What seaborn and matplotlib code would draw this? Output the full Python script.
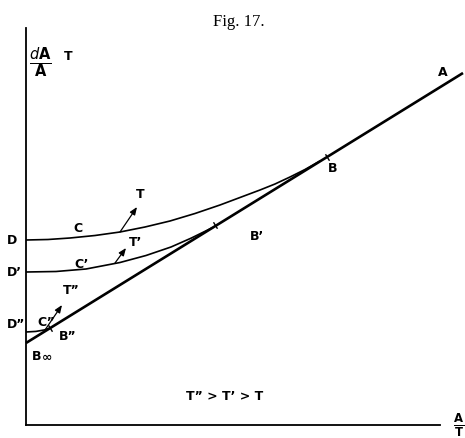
import matplotlib
matplotlib.use("Agg")
import matplotlib.pyplot as plt
import seaborn as sns

sns.set_style("white")
plt.rcParams["font.family"] = ["DejaVu Sans"]
plt.rcParams["mathtext.default"] = "bf"
plt.rcParams["text.color"] = "black"

# Straight line B_inf -> A
lead_x = [0, 437]
lead_y = [82, 352]

# Isotherm curves starting at D, D', D'' and touching the line at B, B', B''
curve_t_x = [0, 22, 44, 69, 94, 119, 144, 169, 194, 214, 234, 249, 264, 279, 294]
curve_t_y = [185, 185.5, 187, 189.5, 193, 198, 204, 211.5, 220, 227.5, 235, 241, 248, 255.5, 264]
curve_t1_x = [0, 30, 60, 94, 120, 145, 165, 187]
curve_t1_y = [153, 153.5, 156, 162.5, 169.5, 178, 186.8, 197.6]
curve_t2_x = [0, 10, 18, 24]
curve_t2_y = [93, 93.6, 95, 96.8]

# Contact points B, B', B''
contact_x = [301, 189, 24]
contact_y = [268, 200, 97]

# Temperature arrows (tail, head)
arrow_tails = [(94, 193), (89, 162), (19, 95)]
arrow_heads = [(111, 218), (100, 177), (36, 120)]
arrow_labels = ["T", "T\u2019", "T\u201d"]

fig = plt.figure(figsize=(4.65, 4.38), dpi=100)
ax = fig.add_axes([26 / 465, 13 / 438, 414 / 465, 397 / 438])

sns.lineplot(x=lead_x, y=lead_y, ax=ax, color="black", lw=1.9, sort=False, estimator=None)
for cx, cy in [(curve_t_x, curve_t_y), (curve_t1_x, curve_t1_y), (curve_t2_x, curve_t2_y)]:
    sns.lineplot(x=cx, y=cy, ax=ax, color="black", lw=1.2, sort=False, estimator=None)
sns.scatterplot(x=contact_x, y=contact_y, ax=ax, marker=(2, 0, 31.7), s=30,
                color="black", linewidth=1.0, edgecolor="black")
for line in ax.lines:
    line.set_clip_on(False)
    line.set_solid_capstyle("butt")
    line.set_solid_joinstyle("round")

for (tx, ty), (hx, hy) in zip(arrow_tails, arrow_heads):
    ax.annotate("", xy=(hx, hy), xytext=(tx, ty),
                arrowprops=dict(arrowstyle="-|>,head_length=0.45,head_width=0.18",
                                color="black", lw=0.9, shrinkA=0, shrinkB=0))

ax.set_xlim(0, 414)
ax.set_ylim(0, 397)
ax.set_xticks([])
ax.set_yticks([])
sns.despine(ax=ax)
for side in ("left", "bottom"):
    ax.spines[side].set_linewidth(1.3)
    ax.spines[side].set_color("black")

lab = dict(fontsize=9, fontweight="bold", ha="center", va="center", clip_on=False,
           color="black")
ax.text(-14, 185, "D", **lab)
ax.text(-12, 153, "D\u2019", **lab)
ax.text(-10, 101, "D\u201d", **lab)
ax.text(11, 69, "B", **lab)
ax.text(21, 67, "\u221e", **lab)
ax.text(52, 196, "C", **lab)
ax.text(56, 161, "C\u2019", **lab)
ax.text(20, 103, "C\u201d", **lab)
ax.text(42, 89, "B\u201d", **lab)
ax.text(231, 189, "B\u2019", **lab)
ax.text(307, 257, "B", **lab)
ax.text(417, 352, "A", **lab)
ax.text(114, 230, arrow_labels[0], **lab)
ax.text(110, 183, arrow_labels[1], **lab)
ax.text(45, 135, arrow_labels[2], **lab)
ax.text(199, 28, "T\u201d > T\u2019 > T", **lab)

ax.text(433, 0, r"$\frac{A}{T}$", fontsize=12, ha="center", va="center",
        clip_on=False, color="black")
ax.text(3, 362, r"$\frac{\mathit{d}A}{A}$", fontsize=15, ha="left", va="center",
        clip_on=False, color="black")
ax.text(42, 368, "T", **lab)

fig.text(239 / 465, 1 - 22 / 438, "Fig. 17.", family=["Liberation Serif"],
         fontsize=12, ha="center", va="center", color="black")

fig.savefig("out.png", dpi=100, facecolor="white")
